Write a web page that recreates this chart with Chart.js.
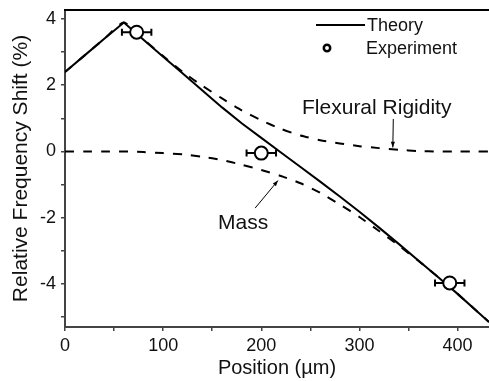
<!DOCTYPE html>
<html>
<head>
<meta charset="utf-8">
<script src="https://cdn.jsdelivr.net/npm/chart.js@4.4.0/dist/chart.umd.min.js"></script>
<style>
  html, body { margin: 0; padding: 0; background: #fff; }
  #wrap { width: 489px; height: 381px; }
</style>
</head>
<body>
<div id="wrap"><canvas id="myChart"></canvas></div>
<script>
// posiciones a lo largo del voladizo (µm)
const posiciones = [0, 20, 40, 60, 80, 100, 120, 140, 160, 180, 200, 220, 240, 260, 280, 300, 320, 340, 360, 380, 400, 420, 432];
// curva teórica total (%)
const teoria = [2.40, 2.90, 3.40, 3.89, 3.37, 2.86, 2.35, 1.84, 1.33, 0.85, 0.41, -0.03, -0.47, -0.91, -1.36, -1.82, -2.30, -2.79, -3.29, -3.79, -4.30, -4.83, -5.15];
// contribución de la rigidez a flexión (%)
const rigidez = [2.40, 2.90, 3.40, 3.89, 3.38, 2.88, 2.40, 1.98, 1.60, 1.24, 0.94, 0.68, 0.48, 0.34, 0.24, 0.16, 0.10, 0.05, 0.01, 0, 0, 0, 0];
// contribución de la masa (%)
const masa = [0, 0, 0, 0, -0.02, -0.05, -0.09, -0.16, -0.26, -0.40, -0.56, -0.74, -0.96, -1.25, -1.60, -1.98, -2.40, -2.84, -3.30, -3.79, -4.30, -4.83, -5.15];
// puntos experimentales
const expPos = [73, 200, 392];
const expShift = [3.6, -0.05, -3.97];
const expErr = [15, 15, 15];
// etiquetas de los ejes
const xTicks = [0, 100, 200, 300, 400];
const yTicks = [-4, -2, 0, 2, 4];

const fuente = "'Liberation Sans', Arial, Helvetica, sans-serif";
Chart.defaults.font.family = fuente;
Chart.defaults.color = "#111";

const toXY = (xs, ys) => xs.map((x, i) => ({ x: x, y: ys[i] }));

// barras de error horizontales
const errorBars = {
  id: "errorBars",
  beforeDatasetsDraw(chart) {
    const { ctx, scales: { x, y } } = chart;
    ctx.save();
    ctx.strokeStyle = "#000";
    ctx.lineWidth = 2;
    expPos.forEach((p, i) => {
      const xl = x.getPixelForValue(p - expErr[i]);
      const xr = x.getPixelForValue(p + expErr[i]);
      const yy = y.getPixelForValue(expShift[i]);
      ctx.beginPath();
      ctx.moveTo(xl, yy); ctx.lineTo(xr, yy);
      ctx.moveTo(xl, yy - 3.5); ctx.lineTo(xl, yy + 3.5);
      ctx.moveTo(xr, yy - 3.5); ctx.lineTo(xr, yy + 3.5);
      ctx.stroke();
    });
    ctx.restore();
  }
};

function flecha(ctx, x1, y1, x2, y2) {
  const ang = Math.atan2(y2 - y1, x2 - x1);
  ctx.beginPath();
  ctx.moveTo(x1, y1); ctx.lineTo(x2, y2);
  ctx.stroke();
  ctx.beginPath();
  ctx.moveTo(x2, y2);
  ctx.lineTo(x2 - 6 * Math.cos(ang - 0.35), y2 - 6 * Math.sin(ang - 0.35));
  ctx.lineTo(x2 - 6 * Math.cos(ang + 0.35), y2 - 6 * Math.sin(ang + 0.35));
  ctx.closePath();
  ctx.fill();
}

// marco superior, leyenda y anotaciones
const extras = {
  id: "extras",
  afterDraw(chart) {
    const { ctx, chartArea: a, scales: { x, y } } = chart;
    ctx.save();
    // línea superior
    ctx.strokeStyle = "#000";
    ctx.lineWidth = 2;
    ctx.beginPath();
    ctx.moveTo(a.left - 1, a.top); ctx.lineTo(a.right, a.top);
    ctx.stroke();

    // leyenda
    ctx.fillStyle = "#111";
    ctx.font = "18px " + fuente;
    ctx.textBaseline = "middle";
    ctx.textAlign = "left";
    ctx.beginPath();
    ctx.moveTo(a.right - 173, a.top + 15); ctx.lineTo(a.right - 124, a.top + 15);
    ctx.stroke();
    ctx.fillText("Theory", a.right - 122, a.top + 16);
    ctx.lineWidth = 2.5;
    ctx.beginPath();
    ctx.arc(a.right - 162, a.top + 38, 3.2, 0, Math.PI * 2);
    ctx.stroke();
    ctx.fillText("Experiment", a.right - 123, a.top + 39);

    // anotaciones
    ctx.font = "21px " + fuente;
    ctx.textBaseline = "alphabetic";
    ctx.fillText("Flexural Rigidity", x.getPixelForValue(241.5), y.getPixelForValue(1.13));
    ctx.fillText("Mass", x.getPixelForValue(156), y.getPixelForValue(-2.34));
    ctx.lineWidth = 1;
    ctx.fillStyle = "#000";
    flecha(ctx, x.getPixelForValue(334.5), y.getPixelForValue(0.98), x.getPixelForValue(334), y.getPixelForValue(0.12));
    flecha(ctx, x.getPixelForValue(193.7), y.getPixelForValue(-1.71), x.getPixelForValue(217), y.getPixelForValue(-0.88));
    ctx.restore();
  }
};

const ctx = document.getElementById("myChart").getContext("2d");

new Chart(ctx, {
  type: "line",
  data: {
    datasets: [
      {
        label: "Experiment",
        type: "scatter",
        data: toXY(expPos, expShift),
        showLine: false,
        pointRadius: 6.5,
        pointBorderWidth: 2,
        pointBackgroundColor: "#fff",
        pointBorderColor: "#000",
        order: 0
      },
      {
        label: "Theory",
        data: toXY(posiciones, teoria),
        borderColor: "#000",
        borderWidth: 2,
        pointRadius: 0,
        tension: 0,
        order: 1
      },
      {
        label: "Flexural Rigidity",
        data: toXY(posiciones, rigidez),
        borderColor: "#000",
        borderWidth: 2,
        borderDash: [9, 9],
        pointRadius: 0,
        tension: 0.2,
        order: 2
      },
      {
        label: "Mass",
        data: toXY(posiciones, masa),
        borderColor: "#000",
        borderWidth: 2,
        borderDash: [9, 9],
        pointRadius: 0,
        tension: 0.2,
        order: 3
      }
    ]
  },
  options: {
    responsive: true,
    maintainAspectRatio: false,
    animation: false,
    layout: { autoPadding: false, padding: { top: 10, left: 0, right: 0, bottom: 0 } },
    plugins: {
      legend: { display: false },
      tooltip: { enabled: false }
    },
    scales: {
      x: {
        type: "linear",
        min: 0,
        max: 432,
        afterFit: (s) => { s.height = 54; s.paddingLeft = 0; s.paddingRight = 0; },
        afterBuildTicks: (s) => { s.ticks = s.ticks.filter(t => t.value % 50 === 0); },
        ticks: {
          stepSize: 50,
          includeBounds: false,
          padding: 4,
          maxRotation: 0,
          font: { size: 18 },
          callback: (v) => (xTicks.includes(v) ? v : "")
        },
        grid: { drawOnChartArea: false, tickLength: 4, color: "#444", lineWidth: 1.5 },
        border: { color: "#444", width: 2 },
        title: {
          display: true,
          text: "Position (\u00b5m)",
          font: { size: 20 },
          padding: { top: 0, bottom: 1 }
        }
      },
      y: {
        min: -5.3,
        max: 4.27,
        afterFit: (s) => { s.width = 65; s.paddingTop = 0; s.paddingBottom = 0; },
        afterBuildTicks: (s) => { s.ticks = s.ticks.filter(t => Number.isInteger(t.value)); },
        ticks: {
          stepSize: 1,
          includeBounds: false,
          padding: 5,
          font: { size: 18 },
          callback: (v) => (yTicks.includes(v) ? v : "")
        },
        grid: { drawOnChartArea: false, tickLength: 4, color: "#444", lineWidth: 1.5 },
        border: { color: "#444", width: 2 },
        title: {
          display: true,
          text: "Relative Frequency Shift (%)",
          font: { size: 21 },
          padding: { top: 9, bottom: 0 }
        }
      }
    }
  },
  plugins: [errorBars, extras]
});
</script>
</body>
</html>
